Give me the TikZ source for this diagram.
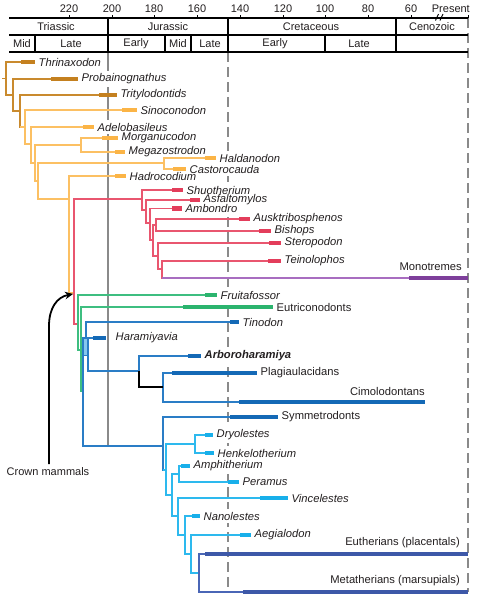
\documentclass[tikz,border=0pt]{standalone}
\usepackage{fontspec}
\setmainfont{Liberation Sans}
\usetikzlibrary{arrows.meta}
\pgfdeclarelayer{bg}
\pgfsetlayers{bg,main}
\definecolor{dor}{HTML}{C98A2E}
\definecolor{dorbar}{HTML}{C4801F}
\definecolor{lor}{HTML}{FCC063}
\definecolor{lorbar}{HTML}{FBB446}
\definecolor{redl}{HTML}{E9566F}
\definecolor{redbar}{HTML}{E33D5B}
\definecolor{purl}{HTML}{A86DC0}
\definecolor{purbar}{HTML}{7E3F9B}
\definecolor{grnl}{HTML}{3EBE80}
\definecolor{grnbar}{HTML}{2BB46E}
\definecolor{blul}{HTML}{2A7DC6}
\definecolor{blubar}{HTML}{1469B6}
\definecolor{lbll}{HTML}{2DB9EE}
\definecolor{lblbar}{HTML}{18AFEA}
\definecolor{lblrect}{HTML}{86C7EE}
\definecolor{navl}{HTML}{4A66B6}
\definecolor{navbar}{HTML}{3D58A8}
\definecolor{txt}{HTML}{231F20}
\definecolor{gry}{HTML}{8A8A8A}
\tikzset{
 br/.style={line width=1.5pt},
 barl/.style={line width=4.5pt},
 lab/.style={anchor=west, inner xsep=1.5pt, inner ysep=2.5pt, text=txt,
   font=\fontsize{11.2}{12}\selectfont\itshape},
 labu/.style={lab, font=\fontsize{11.2}{12}\selectfont},
 labb/.style={lab, font=\fontsize{11.2}{12}\selectfont\bfseries\itshape},
 labr/.style={anchor=east, inner sep=1pt, text=txt, font=\fontsize{11.2}{12}\selectfont},
 hdr/.style={line width=1.2pt, black},
 htx/.style={font=\fontsize{11}{12}\selectfont, text=txt, inner sep=0pt},
 gridsolid/.style={line width=1.8pt, gry},
 griddash/.style={line width=1.8pt, gry, dash pattern=on 10pt off 5pt},
}
\newcommand\tax[6]{\coordinate (#1s) at (#3,#2); \coordinate (#1e) at (#4,#2);
  \node[#5] (#1l) at ([xshift=2pt]#1e) {#6};}
\begin{document}
\begin{tikzpicture}[x=1pt,y=-1pt]
\begin{pgfonlayer}{bg}
\fill[white] (0,0) rectangle (477,600);
\end{pgfonlayer}
\useasboundingbox (0,0) rectangle (477,600);
% ---------- time grid
\coordinate (g200t) at (108,52); \coordinate (g200b) at (108,446);
\coordinate (g145t) at (228,52); \coordinate (g145b) at (228,590);
\coordinate (g0t) at (468,18); \coordinate (g0b) at (468,592);
\begin{pgfonlayer}{bg}
\draw[gridsolid] (g200t) -- (g200b);
\draw[griddash] (g145t) -- (g145b);
\draw[griddash] (g0t) -- (g0b);
\end{pgfonlayer}
% ---------- header
\draw[hdr] (9,18) -- (468,18);
\draw[hdr] (9,35) -- (468,35);
\draw[hdr] (9,52) -- (468,52);
\foreach \x in {108,228,396} \draw[hdr] (\x,18) -- (\x,52);
\foreach \x in {35,165,191,325} \draw[hdr] (\x,35) -- (\x,52);
\foreach \x/\t in {69/220,112/200,154/180,197/160,240/140,283/120,325/100,368/80,411/60} {
  \draw[line width=1pt] (\x,18) -- (\x,15);
  \node[htx] (n\t) at (\x,9) {\t};
}
\draw[line width=1pt] (468,18) -- (468,15);
\node[htx, anchor=east] (npres) at (470,9) {Present};
\draw[line width=0.9pt] (435.5,20.5) -- (438.5,14);
\draw[line width=0.9pt] (440,20.5) -- (443,14);
\node[htx] (pTri) at (56,27) {Triassic};
\node[htx] (pJur) at (168,27) {Jurassic};
\node[htx] (pCre) at (311,27) {Cretaceous};
\node[htx] (pCen) at (432,27) {Cenozoic};
\node[htx] (eTm) at (22,44) {Mid};
\node[htx] (eTl) at (71,44) {Late};
\node[htx] (eJe) at (136,44) {Early};
\node[htx] (eJm) at (178,44) {Mid};
\node[htx] (eJl) at (210,44) {Late};
\node[htx] (eCe) at (275,44) {Early};
\node[htx] (eCl) at (359,44) {Late};
% ---------- taxa
\tax{Thr}{62}{21}{35}{lab}{Thrinaxodon}
\tax{Pro}{79}{51}{78}{lab}{Probainognathus}
\tax{Tri}{95}{99}{117}{lab}{Tritylodontids}
\tax{Sin}{110}{122}{137}{lab}{Sinoconodon}
\tax{Ade}{127}{83}{94}{lab}{Adelobasileus}
\tax{Mor}{138}{102}{118}{lab}{Morganucodon}
\tax{Meg}{152}{115}{125}{lab}{Megazostrodon}
\tax{Hal}{158}{205}{216}{lab}{Haldanodon}
\tax{Cas}{169}{173}{186}{lab}{Castorocauda}
\tax{Had}{176}{115}{126}{lab}{Hadrocodium}
\tax{Shu}{190}{172}{183}{lab}{Shuotherium}
\tax{Asf}{200}{190}{200}{lab}{Asfaltomylos}
\tax{Amb}{208.5}{172}{182}{lab}{Ambondro}
\tax{Aus}{219}{239}{250}{lab}{Ausktribosphenos}
\tax{Bis}{231}{259}{271}{lab}{Bishops}
\tax{Ste}{243}{269}{281}{lab}{Steropodon}
\tax{Tei}{261}{268}{281}{lab}{Teinolophos}
\coordinate (Mons) at (409,278); \coordinate (Mone) at (468,278);
\node[labr] (Monl) at (463,267) {Monotremes};
\tax{Fru}{295}{205}{217}{lab}{Fruitafossor}
\tax{Eut}{307}{183}{273}{labu}{Eutriconodonts}
\tax{Tin}{322}{230}{239}{lab}{Tinodon}
\coordinate (Hars) at (93,338); \coordinate (Hare) at (106,338);
\node[lab] (Harl) at (114,338) {Haramiyavia};
\tax{Arb}{356}{188}{201}{labb}{Arboroharamiya}
\tax{Pla}{373}{172}{257}{labu}{Plagiaulacidans}
\coordinate (Cims) at (239,402); \coordinate (Cime) at (425,402);
\node[labr] (Ciml) at (426,391) {Cimolodontans};
\tax{Sym}{417}{230}{278}{labu}{Symmetrodonts}
\tax{Dry}{435}{205}{213}{lab}{Dryolestes}
\tax{Hen}{453}{205}{214}{lab}{Henkelotherium}
\tax{Amp}{466}{181}{190}{lab}{Amphitherium}
\tax{Per}{482}{228}{239}{lab}{Peramus}
\tax{Vin}{498}{260}{288}{lab}{Vincelestes}
\tax{Nan}{516}{192}{200}{lab}{Nanolestes}
\tax{Aeg}{535}{240}{251}{lab}{Aegialodon}
\coordinate (Eths) at (205,554); \coordinate (Ethe) at (468,554);
\node[labr] (Ethl) at (461,543) {Eutherians (placentals)};
\coordinate (Mets) at (243,592); \coordinate (Mete) at (468,592);
\node[labr] (Metl) at (461,581) {Metatherians (marsupials)};
% white backing of the labels (hides the time lines behind them)
\begin{pgfonlayer}{bg}
\foreach \l in {Thr,Pro,Tri,Sin,Ade,Mor,Meg,Hal,Cas,Had,Shu,Asf,Amb,Aus,Bis,Ste,Tei,
   Mon,Fru,Eut,Tin,Har,Arb,Pla,Cim,Sym,Dry,Hen,Amp,Per,Vin,Nan,Aeg,Eth,Met}
  \fill[white] (\l l.south west) rectangle (\l l.north east);
\end{pgfonlayer}
% ---------- internal nodes
\coordinate (root) at (2,78.5);
\coordinate (A) at (6,78.5);
\coordinate (B) at (13,95);
\coordinate (C) at (20,111);
\coordinate (D) at (25,127);
\coordinate (E) at (31,144);
\coordinate (F) at (35,163);
\coordinate (MM) at (81,145);
\coordinate (G) at (38,181);
\coordinate (HC) at (164,163);
\coordinate (H) at (69,199);
\coordinate (CR) at (74,293);
\coordinate (R1) at (142,199);
\coordinate (R2) at (146,210);
\coordinate (R3) at (150,223);
\coordinate (N) at (153,240);
\coordinate (AB) at (156,225);
\coordinate (SM) at (158,256);
\coordinate (TM) at (162,269);
\coordinate (G1) at (78,324);
\coordinate (G2) at (81,350);
\coordinate (B1) at (83,391);
\coordinate (X) at (86,338);
\coordinate (Hn) at (88,354);
\coordinate (Ar) at (139,371);
\coordinate (Mu) at (163,387);
\coordinate (S) at (163,446);
\coordinate (DH) at (195,444);
\coordinate (P) at (166,470);
\coordinate (AP) at (179,474);
\coordinate (Q) at (172,495);
\coordinate (V) at (178,516);
\coordinate (Na) at (185,535);
\coordinate (Ae) at (191,554);
\coordinate (Th) at (199,573);
% ---------- branches
\begin{scope}[br, dor]
\draw (root) -- (A);
\draw (A) |- (Thrs); \draw (A) |- (B);
\draw (B) |- (Pros); \draw (B) |- (C);
\draw (C) |- (Tris); \draw (C) |- (D);
\end{scope}
\begin{scope}[br, lor]
\draw (C |- D) -- (D);
\draw (D) |- (Sins); \draw (D) |- (E);
\draw (E) |- (Ades); \draw (E) |- (F);
\draw (F) |- (MM); \draw (MM) |- (Mors); \draw (MM) |- (Megs);
\draw (F) |- (G);
\draw (G) |- (HC); \draw (HC) |- (Hals); \draw (HC) |- (Cass);
\draw (G) |- (H);
\draw (H) |- (Hads); \draw (H) |- (CR);
\end{scope}
\begin{scope}[br, redl]
\draw (CR) |- (R1); \draw (CR) |- (G1);
\draw (R1) |- (Shus); \draw (R1) |- (R2);
\draw (R2) |- (Asfs); \draw (R2) |- (R3);
\draw (R3) |- (Ambs); \draw (R3) |- (N);
\draw (N) |- (AB); \draw (N) |- (SM);
\draw (AB) |- (Auss); \draw (AB) |- (Biss);
\draw (SM) |- (Stes); \draw (SM) |- (TM);
\draw (TM) |- (Teis); \draw (TM) |- (Mons);
\end{scope}
\draw[br, purl] (TM |- Mons) -- (Mons);
\begin{scope}[br, grnl]
\draw (G1) |- (Frus); \draw (G1) |- (G2);
\draw (G2) |- (Euts); \draw (G2) |- (B1);
\end{scope}
\begin{scope}[br, blul]
\draw (B1) |- (X); \draw (B1) |- (S);
\draw (X) |- (Tins); \draw (X) |- (Hn);
\draw (Hn) |- (Hars); \draw (Hn) |- (Ar);
\draw (Ar) |- (Arbs);
\draw (Mu) |- (Plas); \draw (Mu) |- (Cims);
\draw (S) |- (Syms); \draw (S) |- (P);
\end{scope}
\draw[br, black] (Ar) |- (Mu);
\draw[blul, fill=lblrect, line width=0.7pt] (83.3,338) rectangle (86.9,355);
\begin{scope}[br, lbll]
\draw (S |- P) -- (P);
\draw (P) |- (DH); \draw (DH) |- (Drys); \draw (DH) |- (Hens);
\draw (P) |- (Q);
\draw (Q) |- (AP); \draw (AP) |- (Amps); \draw (AP) |- (Pers);
\draw (Q) |- (V);
\draw (V) |- (Vins); \draw (V) |- (Na);
\draw (Na) |- (Nans); \draw (Na) |- (Ae);
\draw (Ae) |- (Aegs); \draw (Ae) |- (Th);
\end{scope}
\begin{scope}[br, navl]
\draw (Th) |- (Eths); \draw (Th) |- (Mets);
\end{scope}
% ---------- bars
\begin{scope}[barl]
\foreach \t in {Thr,Pro,Tri} \draw[dorbar] (\t s) -- (\t e);
\foreach \t in {Sin,Ade,Mor,Meg,Hal,Cas,Had} \draw[lorbar] (\t s) -- (\t e);
\foreach \t in {Shu,Asf,Amb,Aus,Bis,Ste,Tei} \draw[redbar] (\t s) -- (\t e);
\draw[purbar] (Mons) -- (Mone);
\foreach \t in {Fru,Eut} \draw[grnbar] (\t s) -- (\t e);
\foreach \t in {Tin,Har,Arb,Pla,Cim,Sym} \draw[blubar] (\t s) -- (\t e);
\foreach \t in {Dry,Hen,Amp,Per,Vin,Nan,Aeg} \draw[lblbar] (\t s) -- (\t e);
\draw[navbar] (Eths) -- (Ethe);
\draw[navbar] (Mets) -- (Mete);
\end{scope}
% ---------- crown mammals arrow
\node[htx] (cm) at (48,472) {Crown mammals};
\coordinate (cmA) at (49,464);
\coordinate (cmB) at (49,326);
\coordinate (cmT) at (73,294);
\draw[line width=1.8pt, black, -{Stealth[length=8pt,width=7.5pt]}]
  (cmA) -- (cmB) .. controls (49,308) and (57,297) .. (cmT);
\end{tikzpicture}
\end{document}
